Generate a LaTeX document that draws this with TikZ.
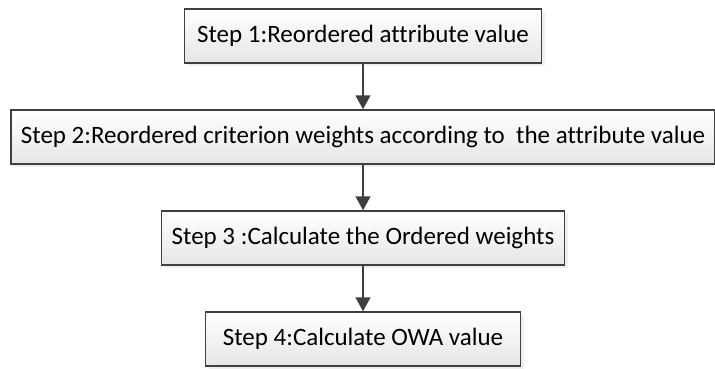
\documentclass[tikz,border=0pt]{standalone}
\usepackage{fontspec}
\setmainfont[Ligatures=NoCommon]{Carlito}
\usetikzlibrary{arrows.meta,positioning,shadows}

\definecolor{boxline}{HTML}{3F3F3F}
\definecolor{boxshade}{HTML}{E6E6E6}

\begin{document}
\begin{tikzpicture}
	\useasboundingbox (0pt,0pt) rectangle (715pt,-369pt);
	\begin{scope}[every node/.style={rectangle,draw=boxline,line width=1.5pt,top color=white,bottom color=boxshade,
		drop shadow={shadow xshift=3pt,shadow yshift=-3pt,fill=black!12},
		minimum height=54pt,inner sep=0pt,font=\fontsize{25}{29}\selectfont},node distance=45.5pt]
		\node[minimum width=357pt] (S1) at (363pt,-36pt) {Step 1:Reordered attribute value};
		\node[below =of S1,minimum width=704pt] (S2) {Step 2:Reordered criterion weights according to \ the attribute value};
		\node[below =of S2,minimum width=403pt] (S3) {Step 3 :Calculate the Ordered weights};
		\node[below =of S3,minimum width=315pt] (S4) {Step 4:Calculate OWA value};
	\end{scope}

	\begin{scope}[boxline,line width=1.5pt]
	\draw[-{Triangle[length=14pt,width=15pt]}] (S1) -- (S2);
	\draw[-{Triangle[length=14pt,width=15pt]}] (S2) -- (S3);
	\draw[-{Triangle[length=14pt,width=15pt]}] (S3) -- (S4);
	\end{scope}
\end{tikzpicture}
\end{document}
